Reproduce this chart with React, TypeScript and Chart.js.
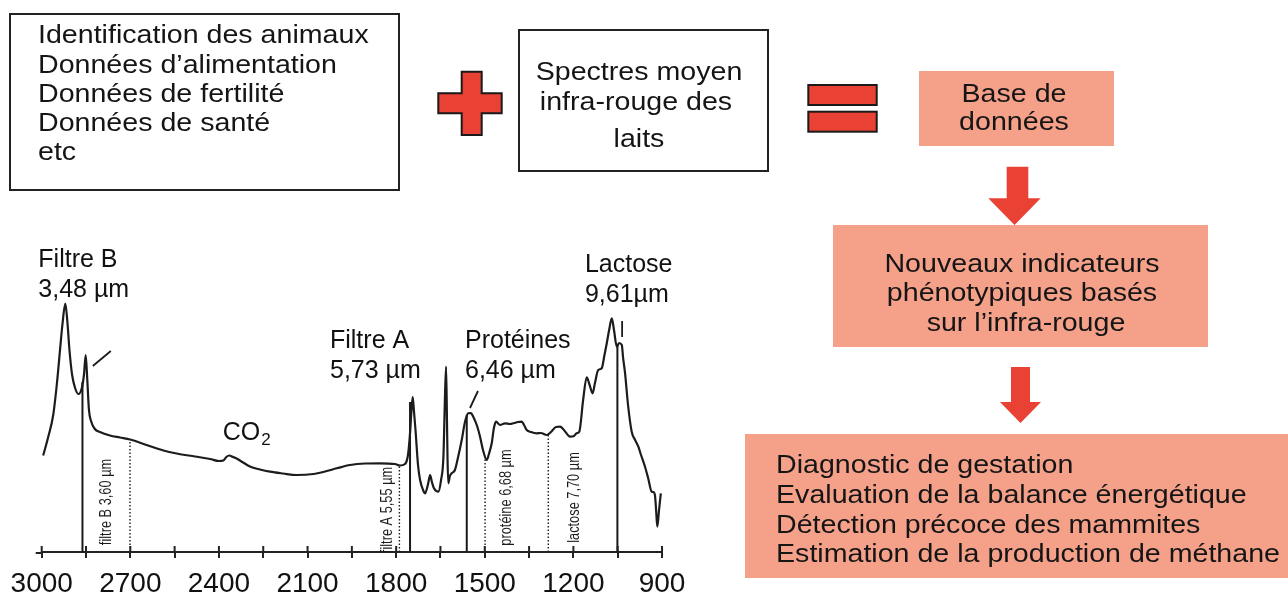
import React, { useEffect, useRef } from "react";
import { Chart, registerables } from "chart.js";

Chart.register(...registerables);

// ---- Spectrum data (wavenumber cm-1, relative absorbance) ----
const wavenumbers = [
  2995, 2978, 2961, 2949, 2938, 2930, 2920, 2913, 2906, 2897, 2887, 2876, 2865, 2857, 2851, 2846, 2840, 2833, 2820, 2803,
  2769, 2735, 2701, 2645, 2588, 2543, 2481, 2430, 2400, 2385, 2375, 2365, 2352, 2340, 2318, 2295, 2261, 2227, 2183, 2137,
  2080, 2041, 2001, 1956, 1905, 1855, 1804, 1787, 1770, 1760, 1753, 1748, 1744, 1740, 1734.5, 1726, 1719, 1709, 1702, 1692,
  1685, 1679, 1672, 1657, 1648, 1640, 1635, 1631, 1628, 1626, 1623.5, 1618, 1612, 1601, 1591, 1578, 1567, 1556, 1547, 1539,
  1526, 1516, 1506, 1493.5, 1486, 1476.5, 1469, 1462, 1448, 1431.5, 1415, 1403, 1387.5, 1375, 1367, 1358, 1343.5, 1324, 1310, 1290,
  1276, 1259, 1245, 1232, 1211, 1198, 1189, 1180, 1167, 1155, 1145, 1135, 1127, 1116, 1104, 1096, 1087, 1079, 1070, 1062.5,
  1053, 1045.5, 1036, 1032, 1025, 1015, 1002.6, 991, 980, 971, 957.5, 947, 935, 930, 924, 920, 916, 910, 904,
];
const absorbance = [
  0.965, 1.15, 1.37, 1.67, 2.02, 2.27, 2.485, 2.3, 2.02, 1.77, 1.64, 1.58, 1.63, 1.77, 1.97, 1.74, 1.42, 1.31, 1.23, 1.2,
  1.165, 1.145, 1.125, 1.07, 1.015, 0.985, 0.955, 0.93, 0.91, 0.915, 0.95, 0.965, 0.95, 0.935, 0.895, 0.855, 0.825, 0.803, 0.785, 0.77,
  0.78, 0.805, 0.837, 0.87, 0.885, 0.887, 0.88, 0.865, 0.88, 0.97, 1.19, 1.42, 1.55, 1.42, 1.22, 0.87, 0.72, 0.62, 0.587, 0.68,
  0.77, 0.7, 0.637, 0.603, 0.72, 0.953, 1.52, 1.853, 1.32, 0.92, 0.687, 0.76, 0.787, 0.82, 0.94, 1.12, 1.3, 1.387, 1.39, 1.353,
  1.26, 1.153, 1.02, 0.92, 0.98, 1.087, 1.24, 1.303, 1.27, 1.287, 1.28, 1.287, 1.3, 1.303, 1.27, 1.22, 1.2, 1.187, 1.19, 1.17,
  1.2, 1.25, 1.253, 1.22, 1.153, 1.16, 1.187, 1.203, 1.52, 1.747, 1.67, 1.587, 1.69, 1.82, 1.837, 1.95, 2.087, 2.22, 2.337, 2.22,
  2.053, 2.09, 2.07, 1.95, 1.787, 1.47, 1.203, 1.12, 1.053, 0.97, 0.853, 0.74, 0.603, 0.6, 0.57, 0.42, 0.253, 0.42, 0.587,
];

// ---- Axis ----
const axisMin = 900;
const axisMax = 3000;
const axisStep = 150;
const labelledTicks = [3000, 2700, 2400, 2100, 1800, 1500, 1200, 900];

// ---- Filter / band markers ----
const solidMarkerWn = [2862, 1753, 1561, 1051];
const solidMarkerTop = [1.7, 1.5, 1.37, 2.07];
const dottedMarkerWn = [2701, 1789, 1499, 1285];
const dottedMarkerTop = [1.125, 0.865, 0.93, 1.17];
const dottedLabels = ["filtre B 3,60 µm", "filtre A 5,55 µm", "protéine 6,68 µm", "lactose 7,70 µm"];
const dottedLabelWn = [2780, 1828, 1426, 1194.5];
const dottedLabelY = [0.5, 0.42, 0.545, 0.545];

// ---- Peak annotations ----
const peakLabelLines = [
  ["Filtre B", "3,48 µm"],
  ["Filtre A", "5,73 µm"],
  ["Protéines", "6,46 µm"],
  ["Lactose", "9,61µm"],
];
const peakLabelWn = [3011.5, 2024, 1567, 1161];
const peakLabelY = [2.85, 2.04, 2.045, 2.8];
const pointerWn = [[2827, 2766], [1550, 1523], [1035, 1035]];
const pointerY = [[1.86, 2.01], [1.44, 1.61], [2.15, 2.31]];
const co2Wn = 2387;
const co2Y = 1.12;

// ---- Diagram texts ----
const inputLines = ["Identification des animaux", "Données d’alimentation", "Données de fertilité", "Données de santé", "etc"];
const inputBaselines = [43.3, 72.7, 101.7, 131, 160];
const spectraLines = ["Spectres moyen", "infra-rouge des", "laits"];
const spectraBaselines = [80, 110, 146.7];
const spectraCenters = [639, 636, 639];
const baseLines = ["Base de", "données"];
const baseBaselines = [101.5, 130];
const indicatorLines = ["Nouveaux indicateurs", "phénotypiques basés", "sur l’infra-rouge"];
const indicatorBaselines = [271.7, 301, 331];
const indicatorCenters = [1022, 1022, 1026];
const outcomeLines = [
  "Diagnostic de gestation",
  "Evaluation de la balance énergétique",
  "Détection précoce des mammites",
  "Estimation de la production de méthane",
];
const outcomeBaselines = [473.3, 503.3, 532.7, 561.7];

const FONT = '"Liberation Sans", Arial, Helvetica, sans-serif';
const RED = "#E94234";
const SALMON = "#F5A18A";
const INK = "#151515";

const annotationPlugin = {
  id: "spectrumAnnotations",
  afterDatasetsDraw(chart: any) {
    const { ctx, chartArea } = chart;
    const x = chart.scales.x;
    const y = chart.scales.y;
    ctx.save();
    // axis stub left of 3000 and upper halves of tick marks (ticks cross the axis)
    ctx.strokeStyle = "#222";
    ctx.lineWidth = 2;
    ctx.beginPath();
    ctx.moveTo(chartArea.left - 6, chartArea.bottom + 1);
    ctx.lineTo(chartArea.left, chartArea.bottom + 1);
    ctx.stroke();
    x.ticks.forEach((t: any) => {
      const px = x.getPixelForValue(t.value);
      ctx.beginPath();
      ctx.moveTo(px, chartArea.bottom - 6);
      ctx.lineTo(px, chartArea.bottom);
      ctx.stroke();
    });
    // peak labels
    ctx.fillStyle = "#111";
    ctx.font = `25px ${FONT}`;
    ctx.textAlign = "left";
    ctx.textBaseline = "alphabetic";
    peakLabelLines.forEach((lines, i) => {
      const px = x.getPixelForValue(peakLabelWn[i]);
      const py = y.getPixelForValue(peakLabelY[i]);
      lines.forEach((ln, j) => ctx.fillText(ln, px, py + j * 30));
    });
    // CO2
    const cx = x.getPixelForValue(co2Wn);
    const cy = y.getPixelForValue(co2Y);
    ctx.fillText("CO", cx, cy);
    const w = ctx.measureText("CO").width;
    ctx.font = `17px ${FONT}`;
    ctx.fillText("2", cx + w + 1, cy + 5);
    // rotated band labels
    ctx.fillStyle = "#1a1a1a";
    ctx.font = `16px ${FONT}`;
    dottedLabels.forEach((t, i) => {
      const px = x.getPixelForValue(dottedLabelWn[i]);
      const py = y.getPixelForValue(dottedLabelY[i]);
      ctx.save();
      ctx.translate(px, py);
      ctx.rotate(-Math.PI / 2);
      ctx.scale(0.8, 1);
      ctx.textAlign = "center";
      ctx.textBaseline = "middle";
      ctx.fillText(t, 0, 0);
      ctx.restore();
    });
    ctx.restore();
  },
};

function SpectrumChart() {
  const ref = useRef<HTMLCanvasElement | null>(null);
  useEffect(() => {
    if (!ref.current) return;
    const segment = (wn: number[], ys: number[], dash: number[] | undefined, width: number) => ({
      data: wn.map((v, k) => ({ x: v, y: ys[k] })),
      borderColor: "#1a1a1a",
      borderWidth: width,
      borderDash: dash,
      pointRadius: 0,
      tension: 0,
      clip: false as any,
    });
    const datasets: any[] = [
      {
        data: wavenumbers.map((v, i) => ({ x: v, y: absorbance[i] })),
        borderColor: "#1c1c1c",
        borderWidth: 2.2,
        pointRadius: 0,
        cubicInterpolationMode: "monotone",
        clip: false,
      },
    ];
    solidMarkerWn.forEach((wn, i) => datasets.push(segment([wn, wn], [0, solidMarkerTop[i]], undefined, 2)));
    dottedMarkerWn.forEach((wn, i) => datasets.push(segment([wn, wn], [0, dottedMarkerTop[i]], [1.5, 2], 1.4)));
    pointerWn.forEach((wns, i) => datasets.push(segment(wns, pointerY[i], undefined, 1.8)));

    const chart = new Chart(ref.current, {
      type: "line",
      data: { datasets },
      options: {
        animation: false,
        responsive: false,
        devicePixelRatio: 1,
        events: [],
        layout: { padding: { left: 41.7, right: 626, top: 252, bottom: 0 } },
        plugins: { legend: { display: false }, tooltip: { enabled: false } },
        scales: {
          x: {
            type: "linear",
            reverse: true,
            min: axisMin,
            max: axisMax,
            afterFit: (s: any) => {
              s.height = 44;
            },
            border: { display: true, color: "#222", width: 2 },
            grid: { drawOnChartArea: false, drawTicks: true, tickLength: 6, color: "#222", lineWidth: 2 },
            ticks: {
              stepSize: axisStep,
              includeBounds: false,
              autoSkip: false,
              maxRotation: 0,
              padding: 9,
              color: "#111",
              font: { family: FONT, size: 28 },
              callback: (v: any) => (labelledTicks.includes(Math.round(Number(v))) ? String(Math.round(Number(v))) : ""),
            },
          },
          y: { type: "linear", display: false, min: 0, max: 3 },
        },
      },
      plugins: [annotationPlugin],
    } as any);
    return () => chart.destroy();
  }, []);
  return <canvas ref={ref} width={1288} height={596} style={{ position: "absolute", left: 0, top: 0 }} />;
}

const LINE_TOP = 22;
function TextLine({ text, baseline, left, center }: { text: string; baseline: number; left?: number; center?: number }) {
  const common: React.CSSProperties = {
    position: "absolute",
    top: baseline - LINE_TOP,
    fontSize: 26,
    lineHeight: "26px",
    whiteSpace: "pre",
    color: INK,
    fontFamily: FONT,
  };
  if (center !== undefined) {
    return (
      <div style={{ ...common, left: center - 300, width: 600, textAlign: "center", transform: "scaleX(1.1)", transformOrigin: "center" }}>
        {text}
      </div>
    );
  }
  return <div style={{ ...common, left, transform: "scaleX(1.1)", transformOrigin: "left" }}>{text}</div>;
}

export default function App() {
  return (
    <div style={{ position: "fixed", left: 0, top: 0, width: 1288, height: 596, background: "#fff", overflow: "hidden", fontFamily: FONT }}>
      <SpectrumChart />
      <svg width={1288} height={596} style={{ position: "absolute", left: 0, top: 0 }}>
        <polygon
          points="461.7,71.7 481.7,71.7 481.7,93.3 501.7,93.3 501.7,113.3 481.7,113.3 481.7,135 461.7,135 461.7,113.3 438.3,113.3 438.3,93.3 461.7,93.3"
          fill={RED}
          stroke="#1a1a1a"
          strokeWidth={2}
        />
        <rect x={808.3} y={85} width={68.4} height={20} fill={RED} stroke="#1a1a1a" strokeWidth={2} />
        <rect x={808.3} y={111.7} width={68.4} height={20} fill={RED} stroke="#1a1a1a" strokeWidth={2} />
        <rect x={919} y={71} width={195} height={75} fill={SALMON} />
        <rect x={833} y={225} width={375} height={122} fill={SALMON} />
        <rect x={745} y={434} width={560} height={144} fill={SALMON} />
        <polygon points="1006.7,166.7 1028.3,166.7 1028.3,198.3 1040.7,198.3 1014.5,225 988.3,198.3 1006.7,198.3" fill={RED} />
        <polygon points="1011,367 1030,367 1030,402 1041,402 1020.5,423 1000,402 1011,402" fill={RED} />
      </svg>
      <div style={{ position: "absolute", left: 9, top: 13, width: 391, height: 178, border: "2.5px solid #222", boxSizing: "border-box" }} />
      <div style={{ position: "absolute", left: 518, top: 29, width: 251, height: 143, border: "2.5px solid #222", boxSizing: "border-box" }} />
      {inputLines.map((t, i) => (
        <TextLine key={"in" + i} text={t} baseline={inputBaselines[i]} left={38} />
      ))}
      {spectraLines.map((t, i) => (
        <TextLine key={"sp" + i} text={t} baseline={spectraBaselines[i]} center={spectraCenters[i]} />
      ))}
      {baseLines.map((t, i) => (
        <TextLine key={"b" + i} text={t} baseline={baseBaselines[i]} center={1014} />
      ))}
      {indicatorLines.map((t, i) => (
        <TextLine key={"ind" + i} text={t} baseline={indicatorBaselines[i]} center={indicatorCenters[i]} />
      ))}
      {outcomeLines.map((t, i) => (
        <TextLine key={"out" + i} text={t} baseline={outcomeBaselines[i]} left={776} />
      ))}
    </div>
  );
}
